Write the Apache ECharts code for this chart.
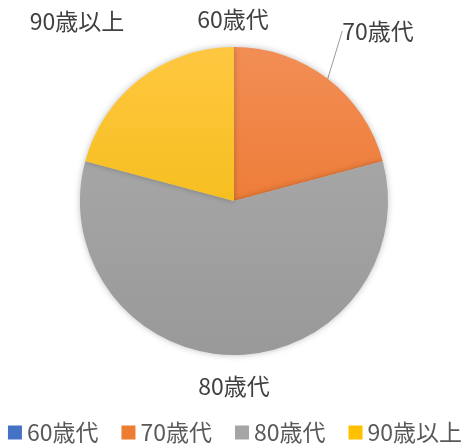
<!DOCTYPE html>
<html>
<head>
<meta charset="utf-8">
<script src="https://cdn.jsdelivr.net/npm/echarts@6/dist/echarts.min.js"></script>
<style>
  html, body { margin: 0; padding: 0; background: #fff; }
  #chart { width: 470px; height: 446px; }
</style>
</head>
<body>
<div id="chart"></div>
<script>
// 年代別の人数
var categories = ['60歳代', '70歳代', '80歳代', '90歳以上'];
var values = [0, 5, 14, 5];

// Excel風の色（上が明るいグラデーション）
var topColors = ['#5B87D6', '#F28E55', '#ADADAD', '#FFC740'];
var bottomColors = ['#3A66B8', '#EA6C1C', '#999999', '#EDB700'];
var legendColors = ['#4472C4', '#ED7D31', '#A5A5A5', '#FFC000'];

// データラベルの位置（Excelの配置に合わせる）
var labelPos = [[233, 19], [378, 31], [234, 386], [77, 21]];

function grad(i) {
  return new echarts.graphic.LinearGradient(0, 47, 0, 356, [
    { offset: 0, color: topColors[i] },
    { offset: 1, color: bottomColors[i] }
  ], true);
}

var myChart = echarts.init(document.getElementById('chart'));

var pieData = [];
for (var i = 0; i < categories.length; i++) {
  pieData.push({
    name: categories[i],
    value: values[i],
    itemStyle: { color: grad(i) },
    labelLine: { show: i === 1 }
  });
}

var option = {
  animation: false,
  textStyle: { fontFamily: '"Noto Sans CJK JP", "Noto Sans", sans-serif' },
  legend: {
    top: 421,
    left: 'center',
    width: 470,
    padding: 0,
    icon: 'rect',
    itemWidth: 14,
    itemHeight: 14,
    itemGap: 23,
    data: categories.map(function (c, i) {
      return { name: c, itemStyle: { color: legendColors[i] } };
    }),
    textStyle: { fontSize: 23, color: '#595959' }
  },
  series: [{
    type: 'pie',
    center: [234, 201],
    radius: 154,
    startAngle: 90,
    clockwise: true,
    avoidLabelOverlap: false,
    data: pieData,
    itemStyle: {
      shadowBlur: 6,
      shadowColor: 'rgba(0,0,0,0.25)',
      borderWidth: 0
    },
    label: {
      show: true,
      position: 'outside',
      fontSize: 23,
      color: '#404040',
      formatter: '{b}'
    },
    labelLine: {
      length: 30,
      length2: 0,
      lineStyle: { color: '#999999', width: 1 }
    },
    labelLayout: function (p) {
      var pos = labelPos[p.dataIndex];
      return { x: pos[0], y: pos[1], align: 'center', verticalAlign: 'middle' };
    },
    emphasis: { disabled: true }
  }]
};

myChart.setOption(option);
</script>
</body>
</html>
